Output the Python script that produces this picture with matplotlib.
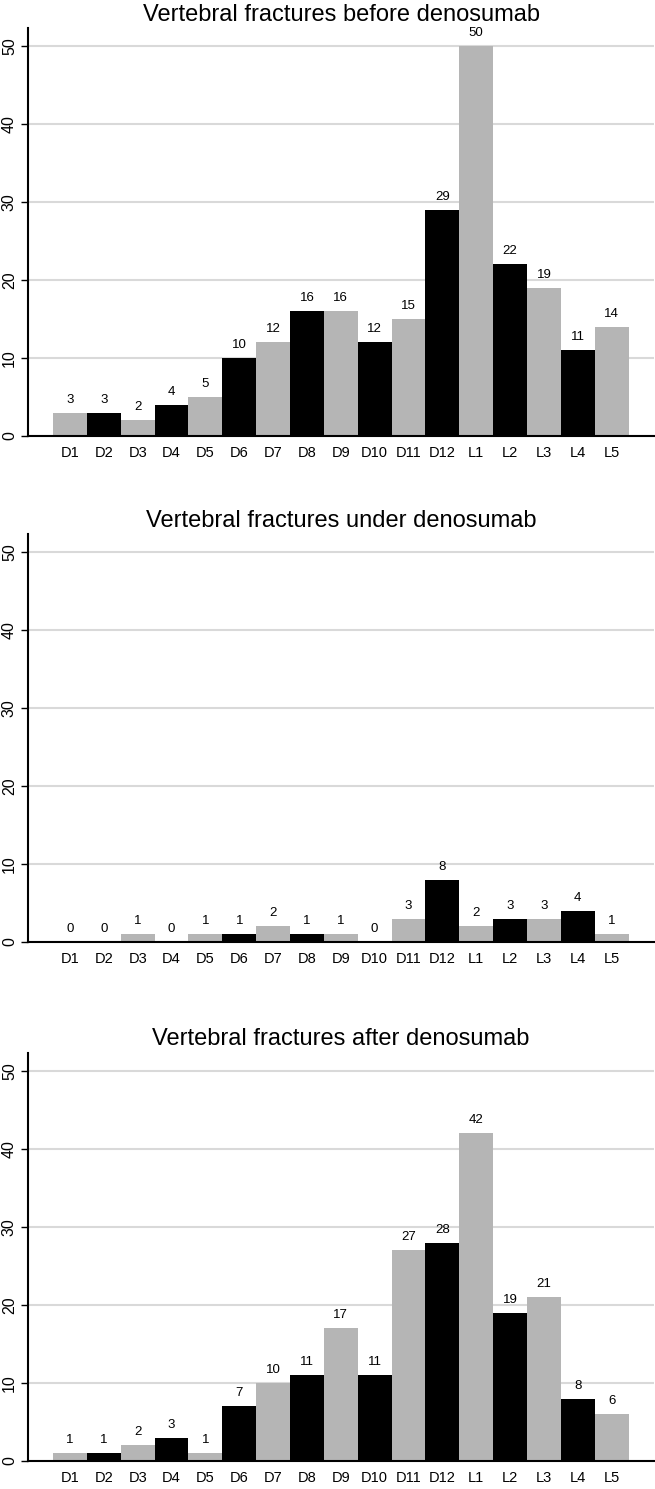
import matplotlib
matplotlib.use("Agg")
import matplotlib.pyplot as plt
import numpy as np

plt.rcParams['font.family'] = ['Liberation Sans', 'DejaVu Sans']

levels = ["D1", "D2", "D3", "D4", "D5", "D6", "D7", "D8", "D9", "D10", "D11", "D12",
          "L1", "L2", "L3", "L4", "L5"]
before = [3, 3, 2, 4, 5, 10, 12, 16, 16, 12, 15, 29, 50, 22, 19, 11, 14]
under = [0, 0, 1, 0, 1, 1, 2, 1, 1, 0, 3, 8, 2, 3, 3, 4, 1]
after = [1, 1, 2, 3, 1, 7, 10, 11, 17, 11, 27, 28, 42, 19, 21, 8, 6]
titles = ["Vertebral fractures before denosumab",
          "Vertebral fractures under denosumab",
          "Vertebral fractures after denosumab"]
yticks = [0, 10, 20, 30, 40, 50]

W, H = 655, 1489
fig = plt.figure(figsize=(W / 100, H / 100), dpi=100)

panels = [(28, 436, 21), (534, 942, 527), (1053, 1461, 1045)]  # (top px, bottom px, title baseline px)
left_px, right_px = 28, 654
colors = ["#b5b5b5" if i % 2 == 0 else "#000000" for i in range(len(levels))]

for (top, bot, tb), vals, title in zip(panels, [before, under, after], titles):
    ax = fig.add_axes([left_px / W, 1 - bot / H, (right_px - left_px) / W, (bot - top) / H])
    x = np.arange(len(levels))
    ax.bar(x, vals, width=1.0, color=colors, zorder=2)
    for xi, v in zip(x, vals):
        ax.annotate(str(v), (xi, v), xytext=(0, 5), textcoords="offset points",
                    ha="center", va="bottom", fontsize=9.5, clip_on=False)
    ax.set_xlim(-1.24, 17.25)
    ax.set_ylim(0, 52.3)
    ax.set_yticks(yticks)
    ax.set_yticklabels([str(t) for t in yticks], rotation=90, va="center", fontsize=11.5)
    ax.set_xticks(x)
    ax.set_xticklabels(levels, fontsize=10.5)
    ax.tick_params(axis="x", length=0, pad=7)
    ax.tick_params(axis="y", length=5, width=1, pad=3)
    ax.yaxis.grid(True, color="#d9d9d9", linewidth=1.5, zorder=0)
    ax.set_axisbelow(True)
    for s in ["top", "right"]:
        ax.spines[s].set_visible(False)
    for s in ["left", "bottom"]:
        ax.spines[s].set_linewidth(1.5)
    fig.text((left_px + right_px) / 2 / W, 1 - tb / H, title, fontsize=17,
             ha="center", va="baseline")

fig.savefig("out.png", dpi=100)
